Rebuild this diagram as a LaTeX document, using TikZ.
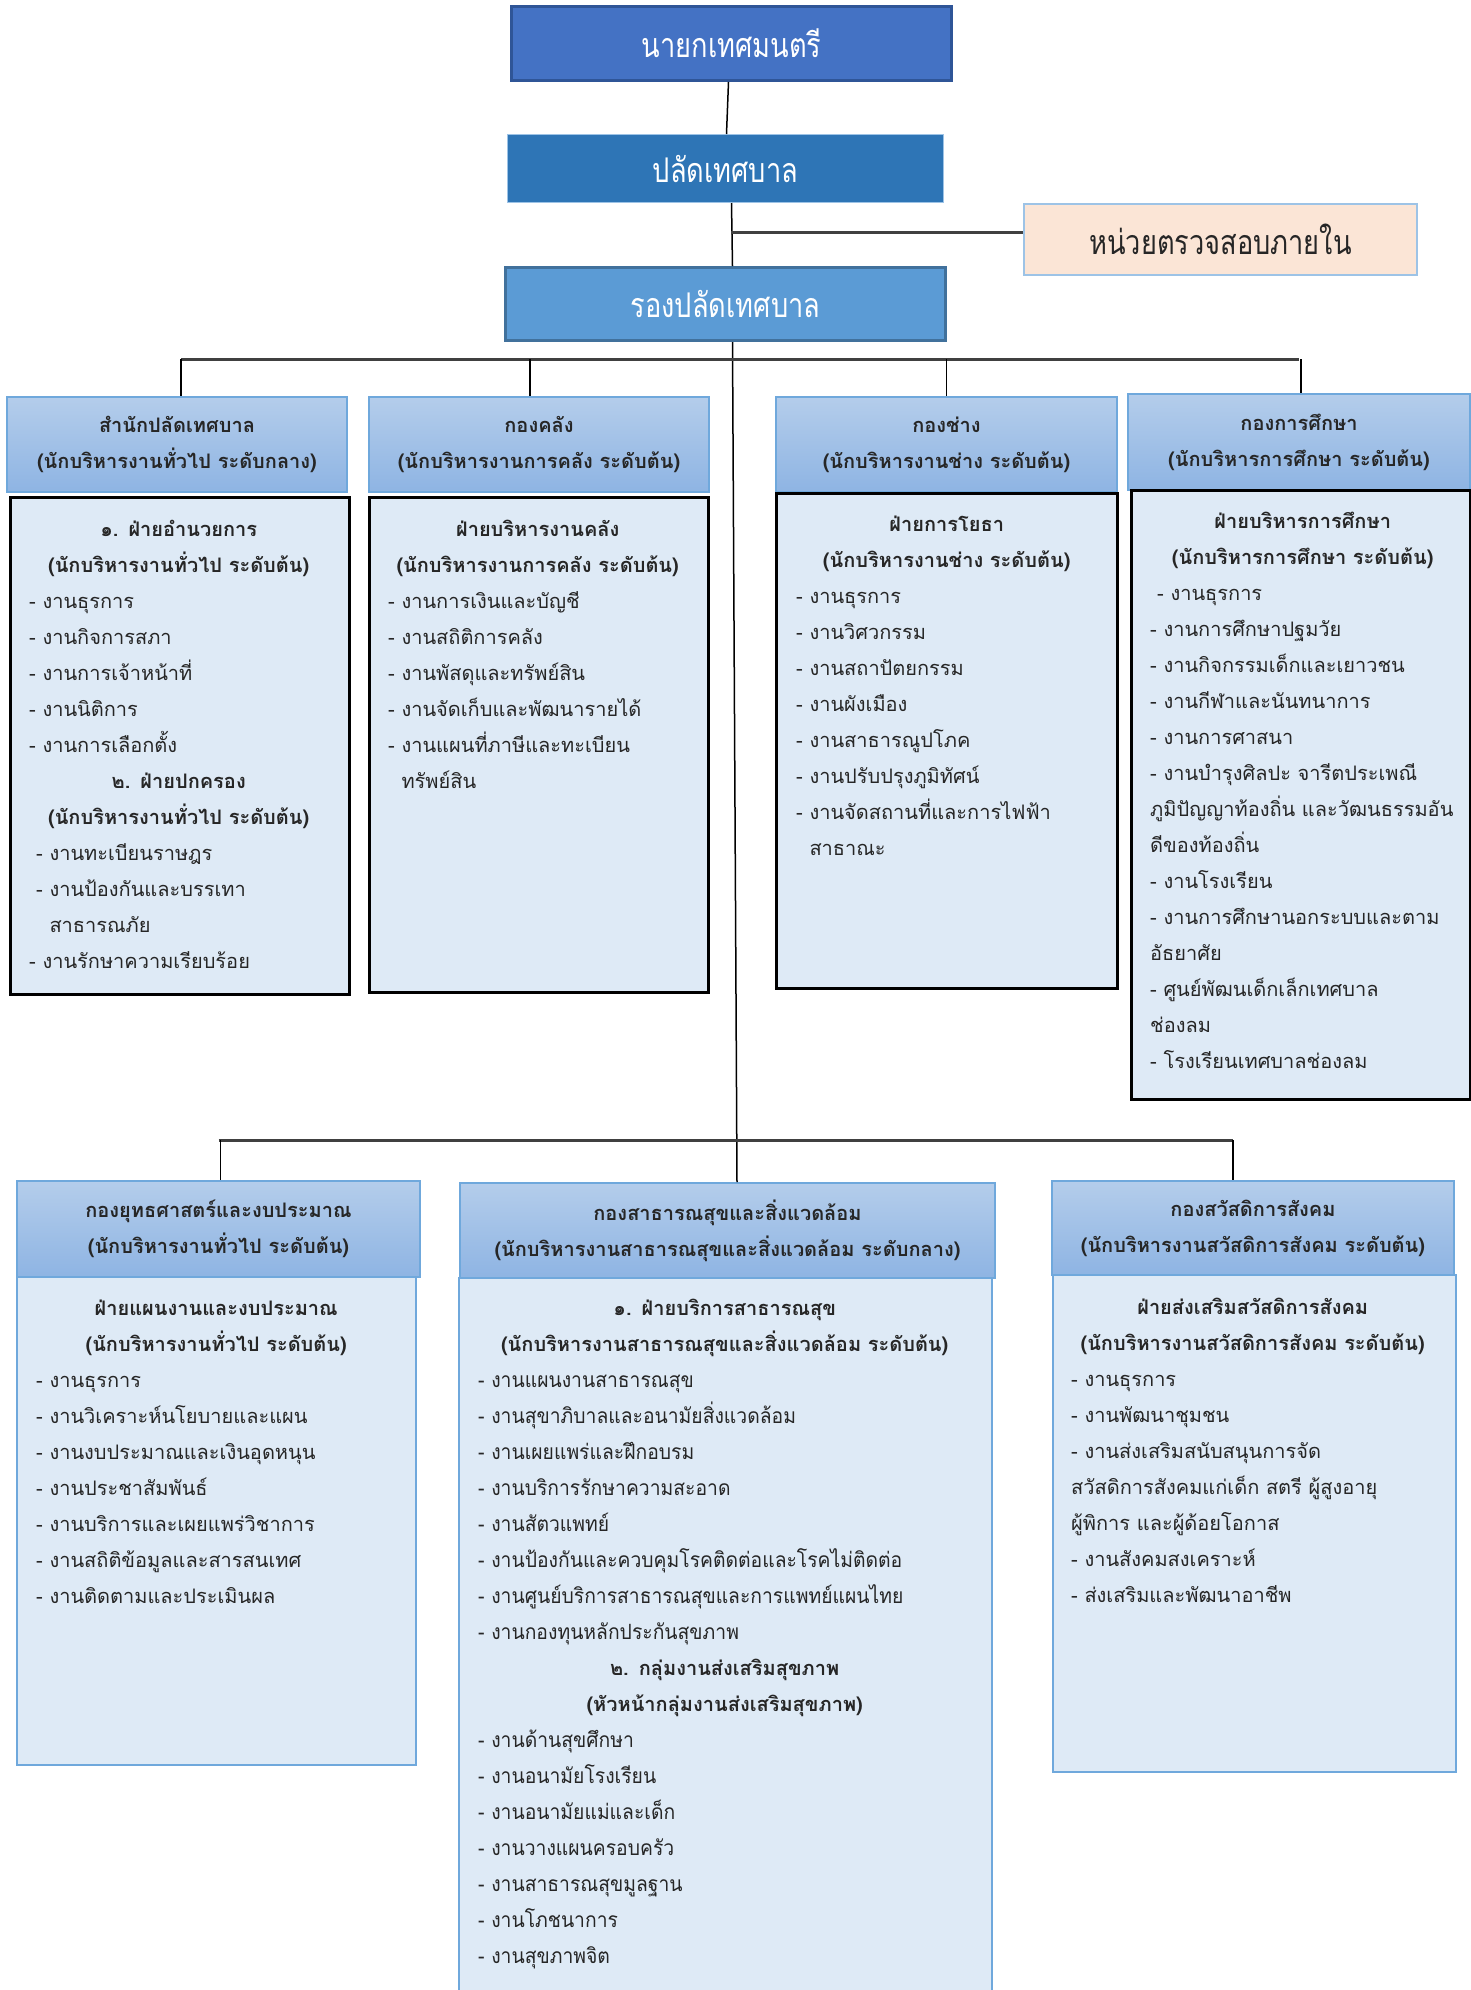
\documentclass[tikz,border=0pt]{standalone}
\usepackage{fontspec}
\setmainfont[Script=Thai]{Loma}
\newfontfamily\boxfont[Script=Thai,FakeStretch=0.8]{Loma}
\newfontfamily\listnarrow[Script=Thai,FakeStretch=0.92]{Loma}
\usepackage{xcolor}
\usetikzlibrary{calc}
\definecolor{mayorfill}{HTML}{4472C4}
\definecolor{mayorline}{HTML}{2F5597}
\definecolor{clerkfill}{HTML}{2E75B6}
\definecolor{deputyfill}{HTML}{5B9BD5}
\definecolor{deputyline}{HTML}{41719C}
\definecolor{auditfill}{HTML}{FBE5D6}
\definecolor{auditline}{HTML}{9DC3E6}
\definecolor{headtop}{HTML}{B4CDEB}
\definecolor{headbottom}{HTML}{8EB4E3}
\definecolor{headline}{HTML}{6FA8DC}
\definecolor{listfill}{HTML}{DEEAF6}
\definecolor{textgray}{HTML}{262626}
\newcommand\ttl[1]{{\centering\bfseries #1\par}}
\newcommand\itm[1]{{\raggedright #1\par}}
\tikzset{
	rankbox/.style={anchor=north west, inner sep=0pt, text=white,
			font=\boxfont\fontsize{34}{40}\selectfont},
	headbox/.style={anchor=north west, inner sep=0pt, top color=headtop,
			bottom color=headbottom, draw=headline, line width=2pt, align=center,
			text=textgray, font=\bfseries\fontsize{20}{36}\selectfont},
	listbox/.style={anchor=north west, inner sep=0pt, fill=listfill, draw=#1, line width=3pt},
	listtext/.style={anchor=north west, inner sep=0pt, text=textgray,
			font=\parindent0pt\fontsize{20}{36}\selectfont, text width=#1},
	link/.style={draw=black, line width=1.5pt},
	busline/.style={draw=black!75, line width=3pt}
}

\begin{document}
\begin{tikzpicture}[x=1pt,y=-1pt]
	\useasboundingbox (0,0) rectangle (1471,1990);
	% upper ranks
	\node[rankbox, fill=mayorfill, draw=mayorline, line width=3pt, minimum width=440pt, minimum height=74pt] (mayor) at (510,5) {นายกเทศมนตรี};
	\node[rankbox, fill=clerkfill, draw=auditline, line width=1pt, minimum width=436pt, minimum height=68pt] (clerk) at (507,134) {ปลัดเทศบาล};
	\node[rankbox, fill=auditfill, draw=auditline, line width=2pt, text=textgray, minimum width=393pt, minimum height=71pt] (audit) at (1023,203) {หน่วยตรวจสอบภายใน};
	\node[rankbox, fill=deputyfill, draw=deputyline, line width=3pt, minimum width=440pt, minimum height=73pt] (deputy) at (504,266) {รองปลัดเทศบาล};

	% divisions, first row
	\node[headbox, minimum width=340pt, minimum height=95pt] (hdA) at (6,396) {สำนักปลัดเทศบาล\\(นักบริหารงานทั่วไป ระดับกลาง)};
	\node[headbox, minimum width=340pt, minimum height=95pt] (hdB) at (368,396) {กองคลัง\\(นักบริหารงานการคลัง ระดับต้น)};
	\node[headbox, minimum width=341pt, minimum height=95pt] (hdC) at (775,396) {กองช่าง\\(นักบริหารงานช่าง ระดับต้น)};
	\node[headbox, minimum width=342pt, minimum height=96pt] (hdD) at (1127,393) {กองการศึกษา\\(นักบริหารการศึกษา ระดับต้น)};
	\node[listbox=black, minimum width=339pt, minimum height=497pt] (bdA) at (9,496) {};
	\node[listbox=black, minimum width=339pt, minimum height=495pt] (bdB) at (368,496) {};
	\node[listbox=black, minimum width=341pt, minimum height=495pt] (bdC) at (775,492) {};
	\node[listbox=black, minimum width=339pt, minimum height=609pt] (bdD) at (1130,489) {};

	% divisions, second row
	\node[headbox, minimum width=403pt, minimum height=96pt] (hdE) at (16,1180) {กองยุทธศาสตร์และงบประมาณ\\(นักบริหารงานทั่วไป ระดับต้น)};
	\node[headbox, minimum width=535pt, minimum height=95pt] (hdF) at (459,1182) {กองสาธารณสุขและสิ่งแวดล้อม\\(นักบริหารงานสาธารณสุขและสิ่งแวดล้อม ระดับกลาง)};
	\node[headbox, minimum width=402pt, minimum height=94pt] (hdG) at (1051,1180) {กองสวัสดิการสังคม\\(นักบริหารงานสวัสดิการสังคม ระดับต้น)};
	\node[listbox=headline, line width=2pt, minimum width=399pt, minimum height=488pt] (bdE) at (16,1276) {};
	\node[listbox=headline, line width=2pt, minimum width=533pt, minimum height=740pt] (bdF) at (458,1277) {};
	\node[listbox=headline, line width=2pt, minimum width=403pt, minimum height=497pt] (bdG) at (1052,1274) {};

	% sections and work units
	\node[listtext=299pt] (txtA) at ([shift={(20,24)}]bdA.north west) {%
		\ttl{๑. ฝ่ายอำนวยการ}
		\ttl{(นักบริหารงานทั่วไป ระดับต้น)}
		\itm{- งานธุรการ}
		\itm{- งานกิจการสภา}
		\itm{- งานการเจ้าหน้าที่}
		\itm{- งานนิติการ}
		\itm{- งานการเลือกตั้ง}
		\ttl{๒. ฝ่ายปกครอง}
		\ttl{(นักบริหารงานทั่วไป ระดับต้น)}
		\itm{\hspace{7pt}- งานทะเบียนราษฎร}
		\itm{\hspace{7pt}- งานป้องกันและบรรเทา}
		\itm{\hspace{7pt}\hphantom{-~}สาธารณภัย}
		\itm{- งานรักษาความเรียบร้อย}};
	\node[listtext=299pt] (txtB) at ([shift={(20,24)}]bdB.north west) {%
		\ttl{ฝ่ายบริหารงานคลัง}
		\ttl{(นักบริหารงานการคลัง ระดับต้น)}
		\itm{- งานการเงินและบัญชี}
		\itm{- งานสถิติการคลัง}
		\itm{- งานพัสดุและทรัพย์สิน}
		\itm{- งานจัดเก็บและพัฒนารายได้}
		\itm{- งานแผนที่ภาษีและทะเบียน}
		\itm{\hphantom{-~}ทรัพย์สิน}};
	\node[listtext=301pt] (txtC) at ([shift={(21,24)}]bdC.north west) {%
		\ttl{ฝ่ายการโยธา}
		\ttl{(นักบริหารงานช่าง ระดับต้น)}
		\itm{- งานธุรการ}
		\itm{- งานวิศวกรรม}
		\itm{- งานสถาปัตยกรรม}
		\itm{- งานผังเมือง}
		\itm{- งานสาธารณูปโภค}
		\itm{- งานปรับปรุงภูมิทัศน์}
		\itm{- งานจัดสถานที่และการไฟฟ้า}
		\itm{\hphantom{-~}สาธาณะ}};
	\node[listtext=305pt] (txtD) at ([shift={(20,23)}]bdD.north west) {%
		\ttl{ฝ่ายบริหารการศึกษา}
		\ttl{(นักบริหารการศึกษา ระดับต้น)}
		\itm{\hspace{7pt}- งานธุรการ}
		\itm{- งานการศึกษาปฐมวัย}
		\itm{- งานกิจกรรมเด็กและเยาวชน}
		\itm{- งานกีฬาและนันทนาการ}
		\itm{- งานการศาสนา}
		\itm{- งานบำรุงศิลปะ จารีตประเพณี}
		\itm{ภูมิปัญญาท้องถิ่น และวัฒนธรรมอัน}
		\itm{ดีของท้องถิ่น}
		\itm{- งานโรงเรียน}
		\itm{- งานการศึกษานอกระบบและตาม}
		\itm{อัธยาศัย}
		\itm{- ศูนย์พัฒนเด็กเล็กเทศบาล}
		\itm{ช่องลม}
		\itm{- โรงเรียนเทศบาลช่องลม}};
	\node[listtext=360pt] (txtE) at ([shift={(20,24)}]bdE.north west) {%
		\ttl{ฝ่ายแผนงานและงบประมาณ}
		\ttl{(นักบริหารงานทั่วไป ระดับต้น)}
		\itm{- งานธุรการ}
		\itm{- งานวิเคราะห์นโยบายและแผน}
		\itm{- งานงบประมาณและเงินอุดหนุน}
		\itm{- งานประชาสัมพันธ์}
		\itm{- งานบริการและเผยแพร่วิชาการ}
		\itm{- งานสถิติข้อมูลและสารสนเทศ}
		\itm{- งานติดตามและประเมินผล}};
	\node[listtext=493pt] (txtF) at ([shift={(20,22)}]bdF.north west) {%
		\ttl{๑. ฝ่ายบริการสาธารณสุข}
		\ttl{(นักบริหารงานสาธารณสุขและสิ่งแวดล้อม ระดับต้น)}
		{\listnarrow\fontsize{21}{36}\selectfont
		\itm{- งานแผนงานสาธารณสุข}
		\itm{- งานสุขาภิบาลและอนามัยสิ่งแวดล้อม}
		\itm{- งานเผยแพร่และฝึกอบรม}
		\itm{- งานบริการรักษาความสะอาด}
		\itm{- งานสัตวแพทย์}
		\itm{- งานป้องกันและควบคุมโรคติดต่อและโรคไม่ติดต่อ}
		\itm{- งานศูนย์บริการสาธารณสุขและการแพทย์แผนไทย}
		\itm{- งานกองทุนหลักประกันสุขภาพ}}
		\ttl{๒. กลุ่มงานส่งเสริมสุขภาพ}
		\ttl{(หัวหน้ากลุ่มงานส่งเสริมสุขภาพ)}
		{\listnarrow\fontsize{21}{36}\selectfont
		\itm{- งานด้านสุขศึกษา}
		\itm{- งานอนามัยโรงเรียน}
		\itm{- งานอนามัยแม่และเด็ก}
		\itm{- งานวางแผนครอบครัว}
		\itm{- งานสาธารณสุขมูลฐาน}
		\itm{- งานโภชนาการ}
		\itm{- งานสุขภาพจิต}}};
	\node[listtext=363pt] (txtG) at ([shift={(19,24)}]bdG.north west) {%
		\ttl{ฝ่ายส่งเสริมสวัสดิการสังคม}
		\ttl{(นักบริหารงานสวัสดิการสังคม ระดับต้น)}
		\itm{- งานธุรการ}
		\itm{- งานพัฒนาชุมชน}
		\itm{- งานส่งเสริมสนับสนุนการจัด}
		\itm{สวัสดิการสังคมแก่เด็ก สตรี ผู้สูงอายุ}
		\itm{ผู้พิการ และผู้ด้อยโอกาส}
		\itm{- งานสังคมสงเคราะห์}
		\itm{- ส่งเสริมและพัฒนาอาชีพ}};

	% connectors
	\coordinate (bus1) at (0,359);
	\coordinate (bus2) at (0,1140);
	\coordinate (auditjoin) at (731,232);
	\coordinate (trunktop) at ([xshift=7]deputy.south);
	\coordinate (trunkend) at (737,1182);
	\draw[link] ([xshift=-3]mayor.south) -- ([xshift=1]clerk.north);
	\draw[link] ([xshift=6]clerk.south) -- ([xshift=7]deputy.north);
	\draw[busline] (auditjoin) -- (auditjoin -| audit.west);
	\draw[link] (trunktop) -- (trunkend);
	\draw[busline] ([xshift=4]hdA.north |- bus1) -- (hdD.north |- bus1);
	\draw[busline] (hdE.north |- bus2) -- ([xshift=-20]hdG.north |- bus2);
	\foreach \n/\dx in {hdA/4,hdB/-9,hdC/0,hdD/2}
	\draw[link] ([xshift=\dx]\n.north |- bus1) -- ([xshift=\dx]\n.north);
	\foreach \n/\dx in {hdE/2,hdG/-20}
	\draw[link] ([xshift=\dx]\n.north |- bus2) -- ([xshift=\dx]\n.north);
\end{tikzpicture}
\end{document}
